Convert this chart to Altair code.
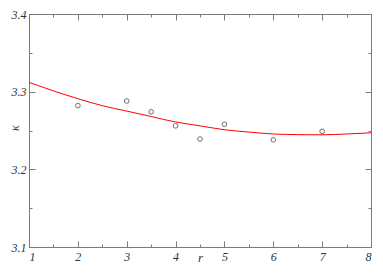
import altair as alt
import pandas as pd

# measured data points
r_pts = [2, 3, 3.5, 4, 4.5, 5, 6, 7]
k_pts = [3.282, 3.288, 3.274, 3.256, 3.239, 3.258, 3.238, 3.249]

# fitted curve
r_fit = [1, 1.5, 2, 2.5, 3, 3.5, 4, 4.5, 5, 5.5, 6, 6.5, 7, 7.5, 8]
k_fit = [3.312, 3.301, 3.291, 3.282, 3.275, 3.268, 3.261, 3.256, 3.251,
         3.248, 3.2455, 3.2447, 3.2445, 3.2455, 3.247]

x_major = [1, 2, 3, 4, 5, 6, 7, 8]
x_minor = [1.5, 2.5, 3.5, 4.5, 5.5, 6.5, 7.5]
y_major = [3.1, 3.2, 3.3, 3.4]
y_minor = [3.15, 3.25, 3.35]

W, H = 342, 233
AX = "#7a7a7a"
TXT = "#333333"
FONT = "Liberation Serif"

pts = pd.DataFrame({"r": r_pts, "k": k_pts})
fit = pd.DataFrame({"r": r_fit, "k": k_fit})

xs = alt.Scale(domain=[1, 8], nice=False, zero=False)
ys = alt.Scale(domain=[3.1, 3.4], nice=False, zero=False)


def tick_axis(orient, offset, values, size, domain=False):
    return alt.Axis(orient=orient, offset=offset, values=values, labels=False,
                    domain=domain, domainColor=AX, domainWidth=1,
                    ticks=True, tickSize=size, tickColor=AX, tickWidth=1,
                    grid=False, title=None)


main_x = alt.Axis(orient="bottom", values=x_major, format="d", ticks=False,
                  domainColor=AX, domainWidth=1, grid=False,
                  labelFont=FONT, labelFontStyle="italic", labelFontSize=12,
                  labelColor=TXT, labelPadding=4,
                  title="r", titleFont=FONT, titleFontStyle="italic",
                  titleFontWeight="normal", titleFontSize=13, titleColor=TXT,
                  titleBaseline="alphabetic", titleY=14)
main_y = alt.Axis(orient="left", values=y_major, format=".1f", ticks=False,
                  domainColor=AX, domainWidth=1, grid=False,
                  labelFont=FONT, labelFontStyle="italic", labelFontSize=12,
                  labelColor=TXT, labelPadding=3,
                  title="κ", titleFont=FONT, titleFontStyle="italic",
                  titleFontWeight="normal", titleFontSize=12, titleColor=TXT,
                  titleBaseline="middle", titleX=-15, titleY=H / 2 - 3)

points = alt.Chart(pts).mark_point(shape="circle", filled=False, size=22,
                                   stroke="#333333", strokeWidth=1).encode(
    x=alt.X("r:Q", scale=xs, axis=main_x),
    y=alt.Y("k:Q", scale=ys, axis=main_y),
)

line = alt.Chart(fit).mark_line(color="#ff0000", strokeWidth=1,
                                interpolate="natural").encode(
    x=alt.X("r:Q", scale=xs, axis=tick_axis("top", -H, x_major, 6)),
    y=alt.Y("k:Q", scale=ys, axis=tick_axis("right", -W, y_major, 6)),
)

ghost1 = alt.Chart(pts).mark_point(opacity=0).encode(
    x=alt.X("r:Q", scale=xs, axis=tick_axis("bottom", -H, x_major, 6, True)),
    y=alt.Y("k:Q", scale=ys, axis=tick_axis("left", -W, y_major, 6, True)),
)
ghost2 = alt.Chart(pts).mark_point(opacity=0).encode(
    x=alt.X("r:Q", scale=xs, axis=tick_axis("top", -H, x_minor, 3)),
    y=alt.Y("k:Q", scale=ys, axis=tick_axis("right", -W, y_minor, 3)),
)
ghost3 = alt.Chart(pts).mark_point(opacity=0).encode(
    x=alt.X("r:Q", scale=xs, axis=tick_axis("bottom", -H, x_minor, 3)),
    y=alt.Y("k:Q", scale=ys, axis=tick_axis("left", -W, y_minor, 3)),
)

chart = alt.layer(line, points, ghost1, ghost2, ghost3).resolve_axis(
    x="independent", y="independent"
).properties(
    width=W, height=H, autosize="none",
    padding={"left": 21, "top": 6, "right": 4, "bottom": 18},
    background="white",
).configure_view(stroke=None)

chart.save("out.html", embed_options={"renderer": "svg", "actions": False})
